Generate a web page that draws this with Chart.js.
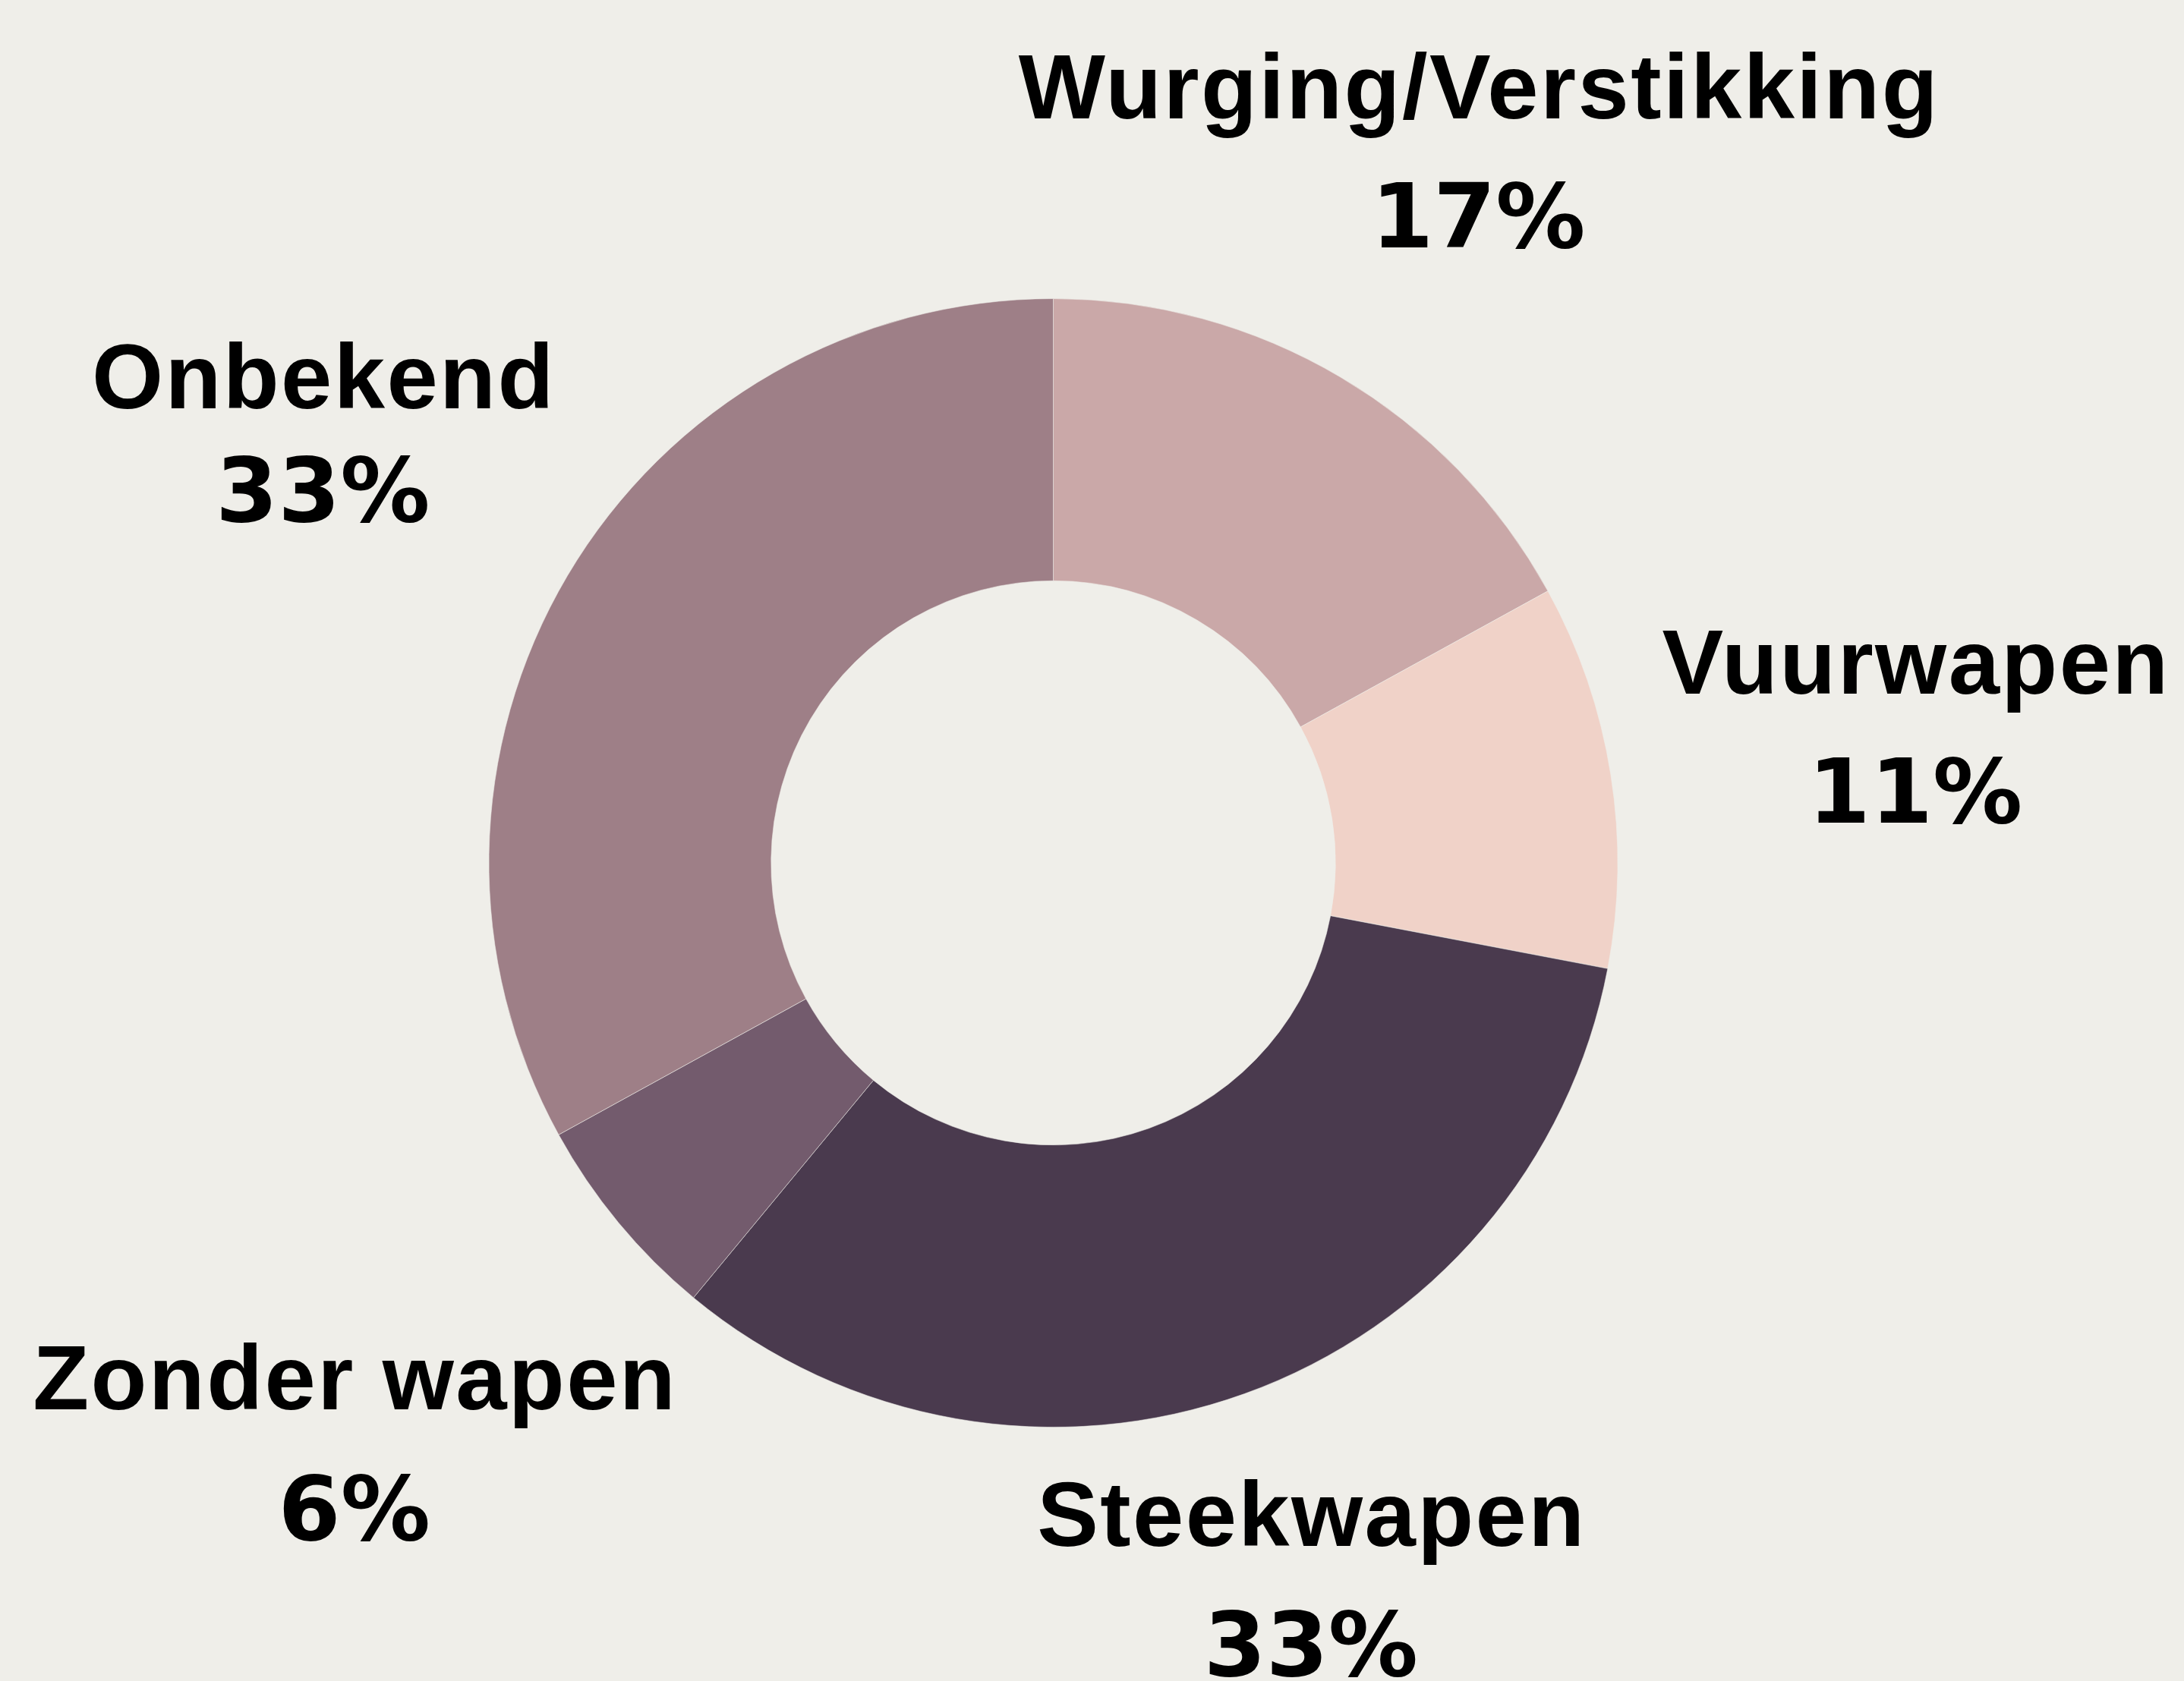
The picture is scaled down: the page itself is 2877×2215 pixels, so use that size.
<!DOCTYPE html>
<html>
<head>
<meta charset="utf-8">
<script src="https://cdn.jsdelivr.net/npm/chart.js@4/dist/chart.umd.min.js"></script>
<style>
  html, body { margin: 0; padding: 0; background: #efeee9; }
  #wrap { width: 2877px; height: 2215px; position: relative; }
  canvas { display: block; }
</style>
</head>
<body>
<div id="wrap"><canvas id="c" width="2877" height="2215"></canvas></div>
<script>
// ---- data ----
const categories = ["Wurging/Verstikking", "Vuurwapen", "Steekwapen", "Zonder wapen", "Onbekend"];
const shares = [17, 11, 33, 6, 33];
const sliceColors = ["#caa8a8", "#f0d2c8", "#4a3a4e", "#735b6d", "#9e7f87"];

// ---- label layout (styling, not data) ----
const labelRadiusFactor = [1.421, 1.5385, 1.402, 1.646, 1.474];
const labelAngleShiftDeg = [1.4, 2.07, 0.8, -1.6, -2.0];
const labelLineGap = [170, 170, 171, 172, 149];

const outsideLabels = {
  id: 'outsideLabels',
  afterDatasetsDraw(chart) {
    const ctx = chart.ctx;
    const meta = chart.getDatasetMeta(0);
    const vals = chart.data.datasets[0].data;
    ctx.save();
    ctx.fillStyle = '#000000';
    ctx.textAlign = 'center';
    ctx.textBaseline = 'alphabetic';
    meta.data.forEach((arc, i) => {
      const p = arc.getProps(['x', 'y', 'startAngle', 'endAngle', 'outerRadius'], true);
      const mid = (p.startAngle + p.endAngle) / 2 + labelAngleShiftDeg[i] * Math.PI / 180;
      const r = p.outerRadius * labelRadiusFactor[i];
      const ax = p.x + r * Math.cos(mid);
      const ay = p.y + r * Math.sin(mid);
      const g = labelLineGap[i];
      ctx.font = 'bold 121px "Liberation Sans", Arial, sans-serif';
      if ('letterSpacing' in ctx) ctx.letterSpacing = '2.4px';
      ctx.fillText(chart.data.labels[i], ax + 1, ay - g / 2);
      ctx.font = 'bold 118px "DejaVu Sans", sans-serif';
      if ('letterSpacing' in ctx) ctx.letterSpacing = '0px';
      ctx.fillText(vals[i] + '%', ax, ay + g / 2);
    });
    ctx.restore();
  }
};

new Chart(document.getElementById('c'), {
  type: 'doughnut',
  data: {
    labels: categories,
    datasets: [{
      data: shares,
      backgroundColor: sliceColors,
      borderColor: 'rgba(239,238,233,0.55)',
      borderWidth: 1,
      hoverOffset: 0
    }]
  },
  options: {
    responsive: false,
    animation: false,
    cutout: '50%',
    layout: { padding: { left: 643.5, right: 745.5, top: 393, bottom: 334 } },
    plugins: {
      legend: { display: false },
      tooltip: { enabled: false }
    }
  },
  plugins: [outsideLabels]
});
</script>
</body>
</html>
